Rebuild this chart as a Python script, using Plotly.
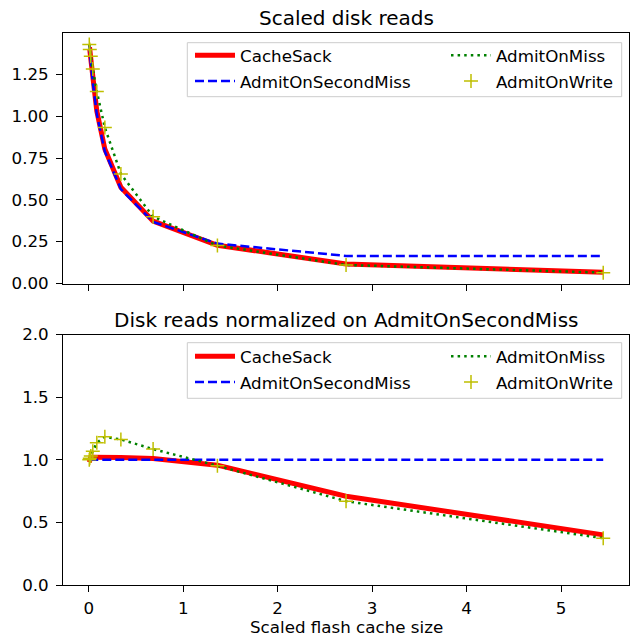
import plotly.graph_objects as go
from plotly.subplots import make_subplots

# ---- data ----
x_scaled = [0.0053, 0.0106, 0.0213, 0.0426, 0.0851, 0.170, 0.340, 0.681, 1.362, 2.724, 5.447]

top_cachesack = [1.40, 1.40, 1.345, 1.225, 1.032, 0.805, 0.575, 0.372, 0.228, 0.116, 0.066]
top_admit_second = [1.43, 1.385, 1.32, 1.20, 1.012, 0.789, 0.564, 0.368, 0.238, 0.164, 0.163]
top_admit_miss = [1.43, 1.40, 1.36, 1.283, 1.149, 0.933, 0.655, 0.399, 0.226, 0.110, 0.064]
top_admit_write = [1.43, 1.40, 1.36, 1.283, 1.149, 0.933, 0.655, 0.399, 0.226, 0.110, 0.064]

norm_cachesack = [0.98, 1.01, 1.02, 1.02, 1.02, 1.02, 1.018, 1.01, 0.957, 0.709, 0.40]
norm_admit_second = [1.0, 1.0, 1.0, 1.0, 1.0, 1.0, 1.0, 1.0, 1.0, 1.0, 1.0]
norm_admit_miss = [1.0, 1.011, 1.03, 1.068, 1.135, 1.183, 1.162, 1.085, 0.952, 0.669, 0.374]
norm_admit_write = [1.0, 1.011, 1.03, 1.068, 1.135, 1.183, 1.162, 1.085, 0.952, 0.669, 0.374]

series_names = ["CacheSack", "AdmitOnSecondMiss", "AdmitOnMiss", "AdmitOnWrite"]
x_ticks = [0, 1, 2, 3, 4, 5]
top_yticks = [0.0, 0.25, 0.5, 0.75, 1.0, 1.25]
bot_yticks = [0.0, 0.5, 1.0, 1.5, 2.0]
titles = ["Scaled disk reads", "Disk reads normalized on AdmitOnSecondMiss"]
x_label = "Scaled flash cache size"

# ---- layout constants ----
W, H = 630, 636
ML, MR, MT, MB = 63, 1, 33, 51
PH = H - MT - MB
FONT = "DejaVu Sans"
FS = 16.7

def py(pix):
    return 1 - (pix - MT) / PH

def px(pix):
    return (pix - ML) / (W - ML - MR)

top_dom = [py(284.0), 1.0]
bot_dom = [0.0, py(334.5)]

fig = make_subplots(rows=2, cols=1, shared_xaxes=False)

def add_panel(row, ys, leg_a, leg_b):
    c, s, m, w = ys
    fig.add_trace(go.Scatter(x=x_scaled, y=c, mode="lines", name=series_names[0],
                             line=dict(color="#ff0000", width=5), legend=leg_a,
                             legendgroup=leg_a + "c"), row=row, col=1)
    fig.add_trace(go.Scatter(x=x_scaled, y=s, mode="lines", name=series_names[1],
                             line=dict(color="#0000ff", width=2.5, dash="9px,4px"), legend=leg_a,
                             legendgroup=leg_a + "s"), row=row, col=1)
    fig.add_trace(go.Scatter(x=x_scaled, y=m, mode="lines", name=series_names[2],
                             line=dict(color="#008000", width=2.5, dash="2.5px,4.1px"), legend=leg_b,
                             legendgroup=leg_b + "m"), row=row, col=1)
    fig.add_trace(go.Scatter(x=x_scaled, y=w, mode="markers", name=series_names[3],
                             marker=dict(symbol="cross-thin", size=10, color="#bfbf00",
                                         line=dict(color="#bfbf00", width=1.5)),
                             legend=leg_b, legendgroup=leg_b + "w"), row=row, col=1)

add_panel(1, (top_cachesack, top_admit_second, top_admit_miss, top_admit_write), "legend", "legend2")
add_panel(2, (norm_cachesack, norm_admit_second, norm_admit_miss, norm_admit_write), "legend3", "legend4")

axis_common = dict(showline=True, linecolor="black", linewidth=1.3, mirror=True,
                   ticks="outside", ticklen=5.8, tickwidth=1.3, tickcolor="black",
                   showgrid=False, zeroline=False, automargin=False,
                   tickfont=dict(family=FONT, size=FS, color="black"))

fig.update_xaxes(**axis_common, range=[-0.273, 5.72], tickvals=x_ticks, ticklabelstandoff=2)
fig.update_xaxes(domain=[0, 1], showticklabels=False, row=1, col=1)
fig.update_xaxes(domain=[0, 1], row=2, col=1)
fig.update_yaxes(**axis_common, ticklabelstandoff=4)
fig.update_yaxes(domain=top_dom, range=[-0.004, 1.499], tickvals=top_yticks,
                 tickformat=".2f", row=1, col=1)
fig.update_yaxes(domain=bot_dom, range=[0, 2], tickvals=bot_yticks,
                 tickformat=".1f", row=2, col=1)

def leg(xpix, ytop):
    return dict(x=px(xpix), y=py(ytop), xanchor="left", yanchor="top",
                bgcolor="rgba(0,0,0,0)", borderwidth=0, itemwidth=40,
                tracegroupgap=1,
                font=dict(family=FONT, size=FS, color="black"))

fig.update_layout(
    template="none",
    width=W, height=H,
    margin=dict(l=ML, r=MR, t=MT, b=MB),
    paper_bgcolor="white", plot_bgcolor="white",
    font=dict(family=FONT, size=FS, color="black"),
    legend=leg(190, 38),
    legend2=leg(446, 38),
    legend3=leg(190, 339),
    legend4=leg(446, 339),
)

# legend frames
for top, bot in [(42.7, 96.7), (342.7, 398.3)]:
    fig.add_shape(type="rect", xref="paper", yref="paper",
                  x0=px(187.3), x1=px(621.7), y0=py(bot), y1=py(top),
                  line=dict(color="#cccccc", width=1), fillcolor="rgba(255,255,255,0.8)",
                  layer="below")

# titles
for title, dom in zip(titles, [top_dom, bot_dom]):
    fig.add_annotation(text=title, xref="paper", yref="paper", x=0.5, y=dom[1],
                       xanchor="center", yanchor="middle", yshift=15, showarrow=False,
                       font=dict(family=FONT, size=20, color="black"))

# x-axis label
fig.add_annotation(text=x_label, xref="paper", yref="paper", x=0.5, y=0,
                   xanchor="center", yanchor="middle", yshift=-42, showarrow=False,
                   font=dict(family=FONT, size=FS, color="black"))

fig.write_html("out.html", config={"displayModeBar": False},
               post_script="document.body.style.margin='0';document.body.style.overflow='hidden';")
